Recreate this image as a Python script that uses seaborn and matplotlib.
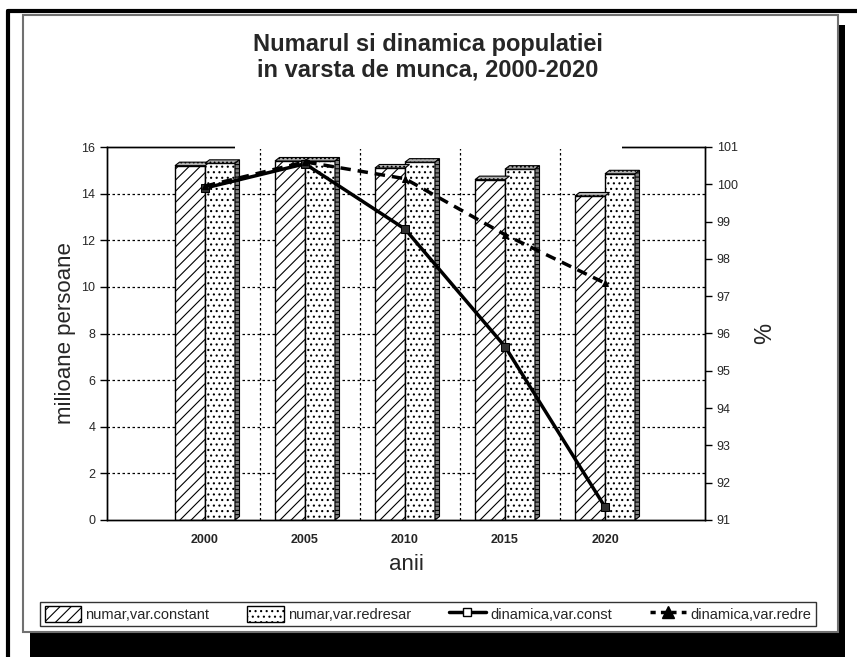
#!/usr/bin/env python
# coding=utf8
"""
Numarul si dinamica populatiei in varsta de munca, 2000-2020
bars (milioane persoane) + index lines (%) on a second axis
"""
import numpy as np
import pandas as pd
import seaborn as sns
import matplotlib.pyplot as plt
from matplotlib.patches import Patch, Rectangle, Polygon
from matplotlib.lines import Line2D

################################################################################
years = ['2000', '2005', '2010', '2015', '2020']
numar_constant = [15.2, 15.4, 15.1, 14.6, 13.9]
numar_redresar = [15.3, 15.4, 15.35, 15.05, 14.85]
dinamica_const = [99.9, 100.55, 98.8, 95.65, 91.35]
dinamica_redre = [99.95, 100.6, 100.15, 98.65, 97.35]

bar_labels = ['numar,var.constant', 'numar,var.redresar']
line_labels = ['dinamica,var.const', 'dinamica,var.redre']

################################################################################
sns.set_style('white')
plt.rcParams['font.family'] = ['Liberation Sans', 'DejaVu Sans']
plt.rcParams['hatch.linewidth'] = 0.8

fig = plt.figure(figsize=(8.57, 6.57), dpi=100)
W, H = 857.0, 657.0


def fx(px):
    return px / W


def fy(py):
    return 1 - py / H


# ##################################### frame, shadow and panel
fig.add_artist(Line2D([fx(8), 1.0], [fy(11), fy(11)], color='black', lw=3))
fig.add_artist(Line2D([fx(8), fx(8)], [fy(11), 0.0], color='black', lw=3))
fig.add_artist(Rectangle((fx(30), 0.0), fx(845) - fx(30), fy(25),
                         facecolor='black', edgecolor='none', zorder=0))
fig.add_artist(Rectangle((fx(23), fy(632)), fx(838) - fx(23), fy(15) - fy(632),
                         facecolor='white', edgecolor='#707070', lw=1.5, zorder=0.5))

# ##################################### main axes
ax = fig.add_axes([fx(107), fy(520), fx(705) - fx(107), fy(147) - fy(520)])
ax.set_zorder(1)
ax.patch.set_alpha(0)

df = pd.DataFrame({
    'an': years * 2,
    'valoare': numar_constant + numar_redresar,
    'serie': [bar_labels[0]] * len(years) + [bar_labels[1]] * len(years),
})
sns.barplot(data=df, x='an', y='valoare', hue='serie', ax=ax,
            palette=['white', 'white'], edgecolor='black', linewidth=1,
            width=0.6, legend=False, zorder=2)

hatches = ['///', '...']
for cont, hatch in zip(ax.containers, hatches):
    for bar in cont:
        bar.set_hatch(hatch)
        # 3D top face and side from the bar geometry
        x0, x1 = bar.get_x(), bar.get_x() + bar.get_width()
        h = bar.get_height()
        d, dy = 0.045, 0.15
        ax.add_patch(Polygon([(x0, h), (x0 + d, h + dy), (x1 + d, h + dy), (x1, h)],
                             closed=True, facecolor='#b0b0b0', edgecolor='black',
                             lw=0.8, hatch='....', zorder=2))
        if hatch == '...':
            ax.add_patch(Polygon([(x1, 0), (x1 + d, dy), (x1 + d, h + dy), (x1, h)],
                                 closed=True, facecolor='#808080', edgecolor='black',
                                 lw=0.8, hatch='----', zorder=2))

ax.set_xlim(-0.98, 5.0)
ax.set_ylim(0, 16)
ax.set_yticks(np.arange(0, 17, 2))
ax.set_xticks(range(len(years)))
ax.set_xticklabels(years)
ax.set_xticks([-0.98] + [i + 0.5 for i in range(len(years) - 1)] + [5.0], minor=True)
ax.tick_params(axis='x', which='major', length=0, labelsize=9, pad=10)
ax.tick_params(axis='x', which='minor', length=5, width=1, color='black', direction='out')
ax.tick_params(axis='y', length=5, width=1, color='black', direction='out',
               labelsize=9, left=True)
for t in ax.get_xticklabels():
    t.set_fontweight('bold')
ax.grid(False)
for yv in np.arange(2, 16, 2):
    ax.axhline(yv, color='black', lw=0.9, ls=(0, (2, 2)), zorder=1)
for xv in [i + 0.5 for i in range(len(years) - 1)]:
    ax.axvline(xv + 0.05, color='black', lw=0.9, ls=(0, (2, 2)), zorder=1)
for sp in ax.spines.values():
    sp.set_color('black')
    sp.set_linewidth(1)
ax.set_ylabel('milioane persoane', fontsize=16, labelpad=4)
ax.set_xlabel('anii', fontsize=16, labelpad=6)

# ##################################### second axis, index lines
ax2 = ax.twinx()
pos = np.arange(len(years))
sns.lineplot(x=pos, y=dinamica_const, ax=ax2, color='black', lw=2.5,
             marker='s', markersize=6, markerfacecolor='#303030',
             markeredgecolor='black', zorder=4)
sns.lineplot(x=pos, y=dinamica_redre, ax=ax2, color='black', lw=2.5,
             linestyle=(0, (3, 2)), marker='^', markersize=4,
             markerfacecolor='black', markeredgecolor='black', zorder=4)
ax2.set_ylim(91, 101)
ax2.set_yticks(range(91, 102))
ax2.tick_params(axis='y', length=5, width=1, color='black', direction='out',
                labelsize=9, right=True)
ax2.set_ylabel('%', fontsize=17, labelpad=12)
for sp in ax2.spines.values():
    sp.set_color('black')
    sp.set_linewidth(1)
ax2.grid(False)

# ##################################### title area
fig.add_artist(Rectangle((fx(235), fy(148.5)), fx(622) - fx(235), fy(85) - fy(148.5),
                         facecolor='white', edgecolor='none', zorder=5))
fig.text(fx(428), fy(44), 'Numarul si dinamica populatiei', ha='center', va='center',
         fontsize=17, fontweight='bold', zorder=6)
fig.text(fx(428), fy(70), 'in varsta de munca, 2000-2020', ha='center', va='center',
         fontsize=17, fontweight='bold', zorder=6)

# ##################################### legend
handles = [
    Patch(facecolor='white', edgecolor='black', hatch='///', label=bar_labels[0]),
    Patch(facecolor='white', edgecolor='black', hatch='...', label=bar_labels[1]),
    Line2D([], [], color='black', lw=2.5, marker='s', markersize=6,
           markerfacecolor='white', markeredgecolor='black', label=line_labels[0]),
    Line2D([], [], color='black', lw=2.5, linestyle=(0, (1.5, 1.5)), marker='^',
           markersize=8, label=line_labels[1]),
]
leg = fig.legend(handles=handles, loc='center', bbox_to_anchor=(fx(428), fy(614)),
                 ncol=4, fontsize=10.5, frameon=True, fancybox=False,
                 edgecolor='black', handlelength=2.5, handleheight=1.3,
                 columnspacing=2.6, handletextpad=0.3, borderpad=0.3)
leg.get_frame().set_linewidth(1)
leg.set_zorder(6)

plt.savefig('out.png', dpi=100)
